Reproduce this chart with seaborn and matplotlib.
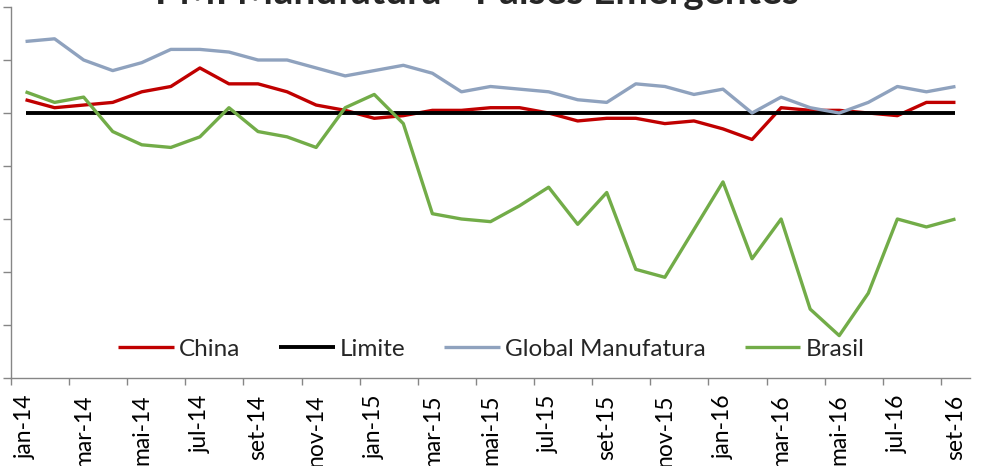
import matplotlib
matplotlib.use("Agg")
import matplotlib.pyplot as plt
import seaborn as sns
import pandas as pd
import numpy as np

months = ["jan-14", "fev-14", "mar-14", "abr-14", "mai-14", "jun-14", "jul-14", "ago-14",
          "set-14", "out-14", "nov-14", "dez-14", "jan-15", "fev-15", "mar-15", "abr-15",
          "mai-15", "jun-15", "jul-15", "ago-15", "set-15", "out-15", "nov-15", "dez-15",
          "jan-16", "fev-16", "mar-16", "abr-16", "mai-16", "jun-16", "jul-16", "ago-16",
          "set-16"]

china = [50.5, 50.2, 50.3, 50.4, 50.8, 51.0, 51.7, 51.1, 51.1, 50.8, 50.3, 50.1,
         49.8, 49.9, 50.1, 50.1, 50.2, 50.2, 50.0, 49.7, 49.8, 49.8, 49.6, 49.7,
         49.4, 49.0, 50.2, 50.1, 50.1, 50.0, 49.9, 50.4, 50.4]
limite = [50.0] * 33
global_manuf = [52.7, 52.8, 52.0, 51.6, 51.9, 52.4, 52.4, 52.3, 52.0, 52.0, 51.7, 51.4,
                51.6, 51.8, 51.5, 50.8, 51.0, 50.9, 50.8, 50.5, 50.4, 51.1, 51.0, 50.7,
                50.9, 50.0, 50.6, 50.2, 50.0, 50.4, 51.0, 50.8, 51.0]
brasil = [50.8, 50.4, 50.6, 49.3, 48.8, 48.7, 49.1, 50.2, 49.3, 49.1, 48.7, 50.2,
          50.7, 49.6, 46.2, 46.0, 45.9, 46.5, 47.2, 45.8, 47.0, 44.1, 43.8, 45.6,
          47.4, 44.5, 46.0, 42.6, 41.6, 43.2, 46.0, 45.7, 46.0]

series_names = ["China", "Limite", "Global Manufatura", "Brasil"]
series_values = [china, limite, global_manuf, brasil]
colors = {"China": "#C00000", "Limite": "#000000",
          "Global Manufatura": "#8FA2BE", "Brasil": "#72AC48"}
widths = {"China": 2.4, "Limite": 2.8, "Global Manufatura": 2.4, "Brasil": 2.4}

rows = []
for name, vals in zip(series_names, series_values):
    for i, v in enumerate(vals):
        rows.append({"idx": i, "mes": months[i], "serie": name, "valor": v})
df = pd.DataFrame(rows)

sns.set_theme(style="white")
plt.rcParams["font.family"] = ["Lato", "DejaVu Sans"]

W, H = 981, 466
fig = plt.figure(figsize=(W / 100, H / 100), dpi=100)
ax = fig.add_axes([11 / W, (H - 378) / H, (970 - 11) / W, (378 - 7) / H])

for name in series_names:
    sub = df[df["serie"] == name]
    sns.lineplot(data=sub, x="idx", y="valor", ax=ax, color=colors[name],
                 linewidth=widths[name], label=name, solid_capstyle="butt")

ax.set_xlim(-0.5, len(months) - 0.5)
ax.set_ylim(40, 54)
ax.set_xlabel("")
ax.set_ylabel("")

# y axis: tick marks only
ax.set_yticks(np.arange(40, 55, 2))
ax.set_yticklabels([])
ax.tick_params(axis="y", which="major", direction="out", length=6, width=1,
               color="#868686", left=True)

# x axis: boundary ticks every 2 months, labels at odd months
ax.set_xticks(np.arange(-0.5, len(months) - 0.5, 2))
ax.set_xticklabels([])
ax.set_xticks(np.arange(0, len(months), 2), minor=True)
ax.set_xticklabels([months[i] for i in range(0, len(months), 2)], minor=True,
                   rotation=90, fontsize=16.5, color="#000000")
ax.tick_params(axis="x", which="major", direction="out", length=5, width=1,
               color="#868686", bottom=True)
ax.tick_params(axis="x", which="minor", length=0, pad=12, bottom=True)

for s in ["top", "right"]:
    ax.spines[s].set_visible(False)
for s in ["left", "bottom"]:
    ax.spines[s].set_color("#868686")
    ax.spines[s].set_linewidth(1)

leg = ax.legend(loc="center", bbox_to_anchor=(491 / W, (H - 349) / H),
                bbox_transform=fig.transFigure, ncol=4, frameon=False,
                fontsize=17.5, handlelength=2.3, handletextpad=0.2,
                columnspacing=1.6)

fig.text(477 / W, (H - 4) / H, "PMI Manufatura - Países Emergentes",
         ha="center", va="baseline", fontsize=28, fontweight="bold")

fig.savefig("out.png", dpi=100)
